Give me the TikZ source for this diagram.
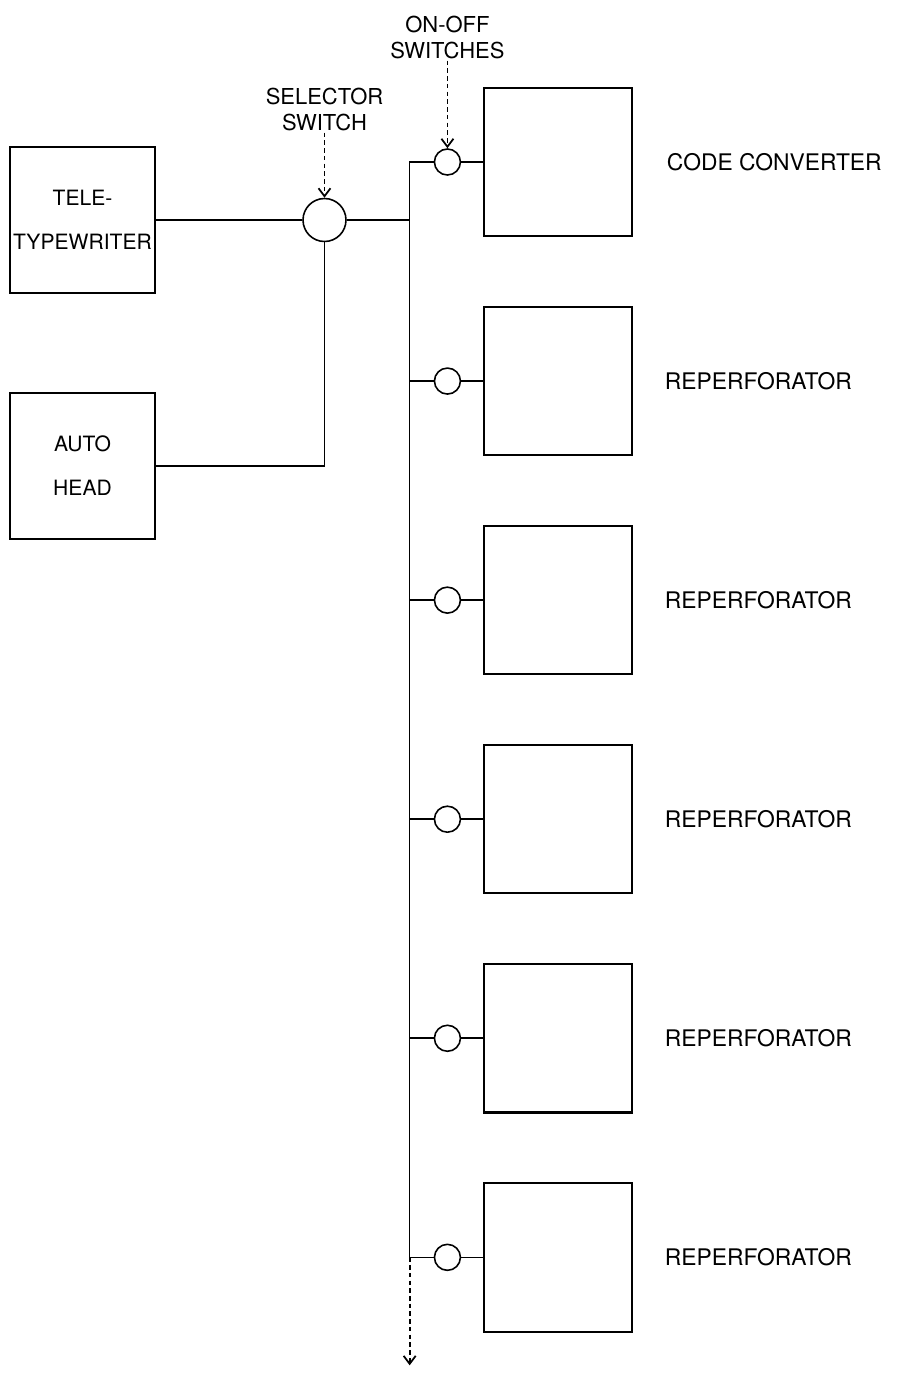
\documentclass[tikz,border=0pt]{standalone}
\usepackage{fontspec}
\setmainfont{TeX Gyre Heros}
\usetikzlibrary{arrows.meta, positioning}

\begin{document}
\begin{tikzpicture}[
    x=0.02cm, y=-0.02cm,
    font=\fontsize{13}{15}\selectfont,
    node distance=1.37cm and 0.7cm,
    unit/.style={
        draw,
        line width=1.2pt,
        align=center,
        minimum width=2.9cm,
        minimum height=2.92cm,
        inner sep=1pt,
        font=\fontsize{12}{25}\selectfont
    },
    device/.style={
        draw,
        line width=1.2pt,
        minimum width=2.95cm,
        minimum height=2.97cm
    },
    switch/.style={
        draw,
        circle,
        line width=0.9pt,
        inner sep=0pt,
        minimum size=0.86cm
    },
    onoff/.style={
        switch,
        minimum size=0.52cm
    },
    note/.style={
        align=center,
        inner sep=1pt,
        font=\fontsize{12.5}{14.5}\selectfont
    },
    line/.style={
        line width=0.9pt
    },
    pointer/.style={
        -{Straight Barb[length=1.6mm, width=2.4mm]},
        line width=1pt,
        dash pattern=on 2.6pt off 1.8pt
    }
]
\useasboundingbox (0,0) rectangle (901,1373);

% Sources
\node[unit] (tty) at (82.5,220) {TELE-\\TYPEWRITER};
\node[unit] (auto) at (82.5,466) {AUTO\\HEAD};

% Selector switch
\node[switch] (sel) at (324.5,220) {};
\node[note, above=1.3cm of sel] (sellabel) {SELECTOR\\SWITCH};

% Output devices
\node[device] (conv) at (558,162) {};
\node[device, below=of conv] (rep1) {};
\node[device, below=of rep1] (rep2) {};
\node[device, below=of rep2] (rep3) {};
\node[device, below=of rep3] (rep4) {};
\node[device, below=of rep4] (rep5) {};

\node[right=0.56cm of conv] (convname) {CODE CONVERTER};
\node[right=0.52cm of rep1] (rep1name) {REPERFORATOR};
\node[right=0.52cm of rep2] (rep2name) {REPERFORATOR};
\node[right=0.52cm of rep3] (rep3name) {REPERFORATOR};
\node[right=0.52cm of rep4] (rep4name) {REPERFORATOR};
\node[right=0.52cm of rep5] (rep5name) {REPERFORATOR};

% On-off switches
\node[onoff, left=0.44cm of conv] (sw0) {};
\node[onoff, left=0.44cm of rep1] (sw1) {};
\node[onoff, left=0.44cm of rep2] (sw2) {};
\node[onoff, left=0.44cm of rep3] (sw3) {};
\node[onoff, left=0.44cm of rep4] (sw4) {};
\node[onoff, left=0.44cm of rep5] (sw5) {};
\node[note, above=1.75cm of sw0] (swlabel) {ON-OFF\\SWITCHES};

% Bus
\coordinate[left=0.48cm of sw0] (tap0);
\coordinate[left=0.48cm of sw1] (tap1);
\coordinate[left=0.48cm of sw2] (tap2);
\coordinate[left=0.48cm of sw3] (tap3);
\coordinate[left=0.48cm of sw4] (tap4);
\coordinate[left=0.48cm of sw5] (tap5);
\coordinate[below=2.16cm of tap5] (busend);

% Lines
\draw[line] (tty) -- (sel);
\draw[line] (sel) -- (sel -| tap0);
\draw[line] (sel) |- (auto);
\draw[line] (sw0) -- (tap0) -- (tap5);
\draw[line] (tap1) -- (sw1);
\draw[line] (tap2) -- (sw2);
\draw[line] (tap3) -- (sw3);
\draw[line] (tap4) -- (sw4);
\draw[line] (tap5) -- (sw5);
\draw[line] (sw0) -- (conv);
\draw[line] (sw1) -- (rep1);
\draw[line] (sw2) -- (rep2);
\draw[line] (sw3) -- (rep3);
\draw[line] (sw4) -- (rep4);
\draw[line] (sw5) -- (rep5);

% Pointers
\draw[pointer] (tap5) -- (busend);
\draw[pointer] (sellabel) -- (sel);
\draw[pointer] (swlabel) -- (sw0);

\end{tikzpicture}
\end{document}
